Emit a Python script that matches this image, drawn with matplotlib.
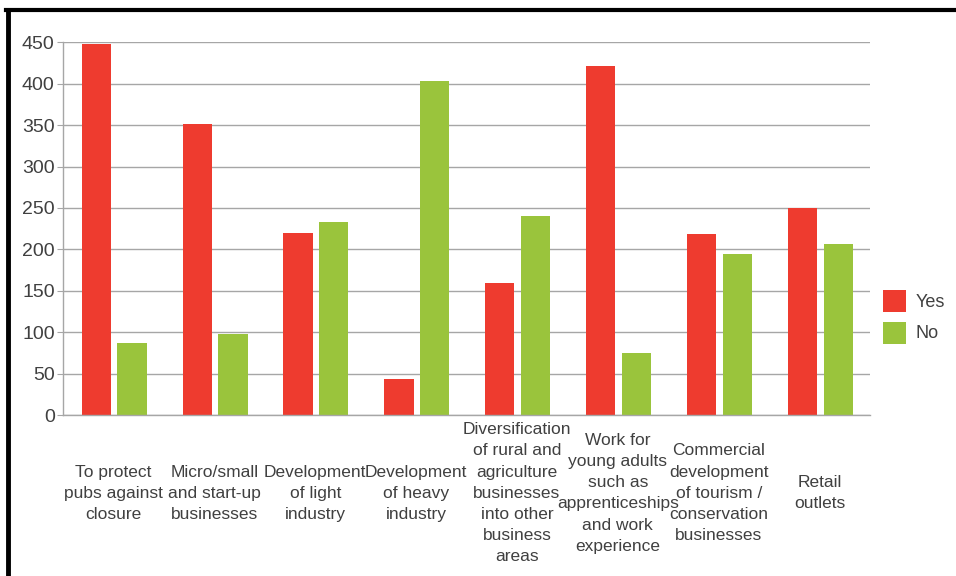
import numpy as np
import matplotlib.pyplot as plt
import matplotlib.transforms as mtransforms

plt.rcParams['font.family'] = ['Liberation Sans', 'DejaVu Sans']

# Survey answers per type of business development
categories = [
    'To protect\npubs against\nclosure',
    'Micro/small\nand start-up\nbusinesses',
    'Development\nof light\nindustry',
    'Development\nof heavy\nindustry',
    'Diversification\nof rural and\nagriculture\nbusinesses\ninto other\nbusiness\nareas',
    'Work for\nyoung adults\nsuch as\napprenticeships\nand work\nexperience',
    'Commercial\ndevelopment\nof tourism /\nconservation\nbusinesses',
    'Retail\noutlets',
]
yes_counts = [448, 352, 220, 43, 160, 422, 218, 250]
no_counts = [87, 98, 233, 403, 240, 75, 195, 206]
y_ticks = [0, 50, 100, 150, 200, 250, 300, 350, 400, 450]

red = '#EE3B2F'
green = '#9AC43C'
grid_col = '#A6A6A6'

fig = plt.figure(figsize=(9.56, 5.76), dpi=100)
ax = fig.add_axes([63 / 956, 1 - 415 / 576, (870 - 63) / 956, (415 - 42.4) / 576])

x = np.arange(len(categories))
width = 0.29
ax.bar(x - 0.17, yes_counts, width, color=red, label='Yes', zorder=2)
ax.bar(x + 0.185, no_counts, width, color=green, label='No', zorder=2)

ax.set_xlim(-0.5, len(categories) - 0.5)
ax.set_ylim(0, 450)
ax.set_yticks(y_ticks)
ax.yaxis.grid(True, color=grid_col, linewidth=1)
ax.set_axisbelow(True)
ax.tick_params(axis='y', length=4, color=grid_col, labelsize=14, labelcolor='#404040', pad=2)
ax.set_xticks([])
for side in ['top', 'right']:
    ax.spines[side].set_visible(False)
for side in ['left', 'bottom']:
    ax.spines[side].set_color(grid_col)
    ax.spines[side].set_linewidth(1)

trans = mtransforms.blended_transform_factory(ax.transData, ax.transAxes)
for i, lab in enumerate(categories):
    ax.text(i, -0.21, lab, transform=trans, ha='center', va='center',
            fontsize=12.5, color='#404040', linespacing=1.52)

ax.legend(loc='center left', bbox_to_anchor=(0.996, 0.263), frameon=False,
          fontsize=13, handlelength=1.3, handleheight=1.5, labelspacing=0.5,
          handletextpad=0.5, labelcolor='#404040')

# black frame lines at top and left
fig.add_artist(plt.Line2D([8 / 956, 8 / 956], [0, 1 - 9.5 / 576], transform=fig.transFigure,
                          color='black', linewidth=3.5))
fig.add_artist(plt.Line2D([6 / 956, 1], [1 - 9.5 / 576, 1 - 9.5 / 576], transform=fig.transFigure,
                          color='black', linewidth=3))

fig.savefig('out.png', dpi=100)
